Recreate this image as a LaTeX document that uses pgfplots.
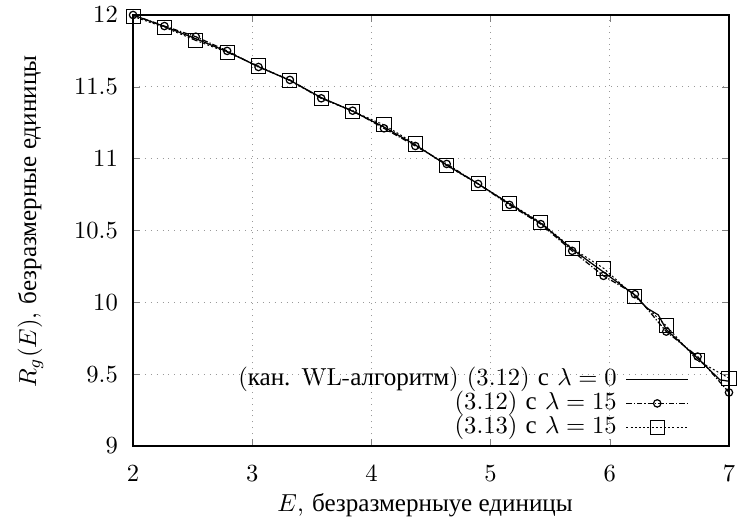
\documentclass[border=0pt]{standalone}
\usepackage{fontspec}
\newfontfamily\cyr{Liberation Serif}[Scale=1.02]
\usepackage{pgfplots}
\pgfplotsset{compat=1.18}
\begin{document}
\begin{tikzpicture}
\begin{axis}[
  scale only axis, width=242.3pt, height=175.2pt,
  xmin=2, xmax=7, ymin=9, ymax=12,
  xtick={2,3,4,5,6,7}, ytick={9,9.5,10,10.5,11,11.5,12},
  tick align=inside, tick pos=both, major tick length=3pt,
  grid=major, major grid style={gray!80, dotted, line width=0.4pt},
  axis line style={line width=0.5pt},
  yticklabel style={inner sep=0pt, xshift=-6pt},
  xticklabel style={inner sep=0pt, yshift=-7.7pt},
  clip=false,
  xlabel={$E$, {\cyr безразмерныуе единицы}},
  ylabel={$R_g(E)$, {\cyr безразмерные единицы}},
  xlabel style={inner sep=0pt, at={(axis description cs:0.49,0)}, anchor=base, yshift=-26.8pt},
  ylabel style={inner sep=0pt, at={(axis description cs:-0.1626,0.52)}, anchor=base},
  legend plot pos=right,
  legend cell align=right,
  legend style={at={(axis cs:6.665,9.042)}, anchor=south east, draw=none, fill=none, inner sep=0pt,
    nodes={inner sep=0pt, text height=7.5pt, text depth=2.25pt}, column sep=3.7pt, row sep=0pt},
  legend image code/.code={\draw[mark repeat=2,mark phase=2,#1] plot coordinates {(0pt,0pt) (12.5pt,0pt) (25pt,0pt)};},
]
\addplot[black, line width=0.5pt] coordinates {
(2.0,12.0) (2.2632,11.92) (2.5263,11.835) (2.7895,11.745) (3.0526,11.64) (3.3158,11.545)
(3.5789,11.425) (3.8421,11.33) (4.1053,11.22) (4.3684,11.095) (4.6316,10.955) (4.8947,10.825)
(5.1579,10.685) (5.4211,10.55) (5.6842,10.37) (5.9474,10.21) (6.2105,10.05) (6.31,9.96)
(6.407,9.912) (6.4737,9.81) (6.7368,9.61) (6.924,9.46) (7.0,9.45)};
\addlegendentry{({\cyr кан.} WL-{\cyr алгоритм}) (3.12) {\cyr с} $\lambda = 0$}
\addplot[black, line width=0.5pt, dash pattern=on 2.2pt off 0.8pt on 0.5pt off 0.8pt, mark=o, mark size=1.5pt, mark options={solid}] coordinates {
(2.0,12.0) (2.2632,11.923) (2.5263,11.849) (2.7895,11.75) (3.0526,11.638) (3.3158,11.548)
(3.5789,11.42) (3.8421,11.334) (4.1053,11.211) (4.3684,11.088) (4.6316,10.963) (4.8947,10.824)
(5.1579,10.678) (5.4211,10.544) (5.6842,10.358) (5.9474,10.184) (6.2105,10.056) (6.4737,9.796)
(6.7368,9.622) (7.0,9.372)};
\addlegendentry{(3.12) {\cyr с} $\lambda = 15$}
\addplot[black, line width=0.4pt, dash pattern=on 0.8pt off 0.9pt, mark=square, mark size=2.85pt, mark options={solid}] coordinates {
(2.0,11.99) (2.2632,11.914) (2.5263,11.823) (2.7895,11.74) (3.0526,11.645) (3.3158,11.543)
(3.5789,11.42) (3.8421,11.33) (4.1053,11.235) (4.3684,11.102) (4.6316,10.95) (4.8947,10.824)
(5.1579,10.69) (5.4211,10.555) (5.6842,10.376) (5.9474,10.237) (6.2105,10.04) (6.4737,9.836)
(6.7368,9.594) (7.0,9.472)};
\addlegendentry{(3.13) {\cyr с} $\lambda = 15$}
\end{axis}
\pgfresetboundingbox
\path ([xshift=-54.1pt,yshift=-32.5pt]current axis.south west) rectangle ([xshift=4.07pt,yshift=6.1pt]current axis.north east);
\end{tikzpicture}
\end{document}
